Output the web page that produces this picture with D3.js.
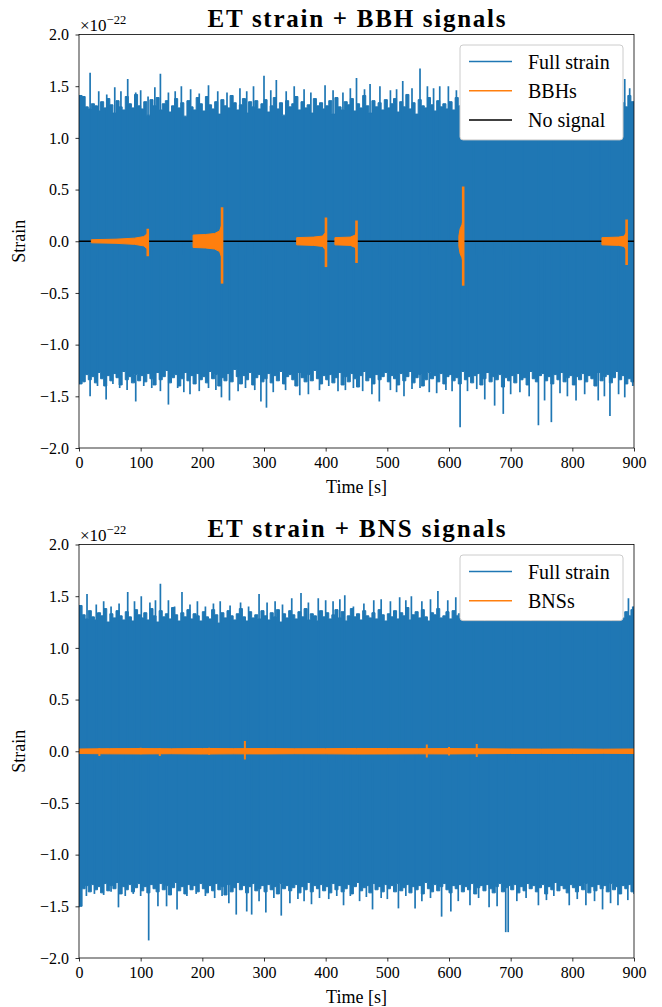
<!DOCTYPE html>
<html>
<head>
<meta charset="utf-8">
<script src="https://cdn.jsdelivr.net/npm/d3@7"></script>
<style>
    body { margin: 0; background: #fff; }
    svg text { font-family: "Liberation Serif", "Times New Roman", serif; fill: #000; }
</style>
</head>
<body>
<svg id="chart" width="662" height="1007" font-family="Liberation Serif, serif"></svg>
<script>
const plotLeft = 79;
const plotRight = 634;
const plotHeight = 413.5;
const panelTops = [34.5, 544.5];
const blue = "#1f77b4";
const orange = "#ff7f0e";

// tick values
const timeTicks = [0, 100, 200, 300, 400, 500, 600, 700, 800, 900];
const strainTicks = [-2.0, -1.5, -1.0, -0.5, 0.0, 0.5, 1.0, 1.5, 2.0];

// noise envelope (units of 1e-24), one value every 5 s from 0 to 900 s
const baseStep = 5;
const bbhNoiseUpper = [
    141,140,130,128,133,131,126,135,129,138,132,124,136,130,127,140,133,129,142,131,
    128,135,122,137,131,139,127,133,136,125,131,138,129,134,121,136,130,127,139,133,
    126,140,132,128,135,123,137,131,129,141,134,127,132,138,124,135,130,136,128,133,
    137,125,131,139,128,134,122,136,130,133,140,127,135,129,132,124,138,131,134,128,
    131,136,123,139,130,127,135,132,138,126,133,129,141,131,124,136,130,134,127,137,
    129,133,138,125,135,130,142,128,134,123,137,131,129,139,132,126,136,130,133,128,
    135,127,139,131,124,136,132,129,140,126,134,130,137,128,133,122,138,131,135,129,
    132,138,126,134,130,141,127,135,129,133,124,137,131,139,128,134,130,136,125,132,
    138,130,127,135,132,140,126,133,129,137,131,124,136,132,139,128,134,130,141,135,
    133];
const bbhNoiseLower = [
    138,136,129,134,131,137,127,133,140,130,135,128,132,139,126,134,131,137,129,135,
    130,136,128,133,139,127,134,131,125,137,132,129,140,133,127,135,130,138,128,134,
    131,137,126,133,129,140,132,135,128,136,124,131,138,130,134,127,139,132,129,136,
    133,128,137,130,135,126,138,131,129,134,140,127,132,136,129,135,125,133,138,130,
    134,129,137,132,127,139,131,136,128,133,141,130,126,135,132,138,129,134,131,127,
    136,130,133,139,128,135,131,126,137,132,129,140,134,127,133,130,136,128,138,131,
    129,135,132,138,126,134,131,137,130,128,139,133,127,136,131,134,129,141,132,135,
    130,137,128,134,132,139,126,133,136,130,128,135,131,138,129,134,127,136,132,130,
    139,131,134,128,136,130,133,140,127,135,131,129,137,132,126,134,130,138,133,136,
    136];
const bnsNoiseUpper = [
    141,132,128,136,130,127,134,131,138,125,133,129,136,131,127,135,130,126,137,132,
    129,134,127,138,131,125,136,130,133,128,139,132,126,134,130,137,128,133,131,126,
    135,130,128,137,132,124,134,129,136,131,127,133,138,130,126,135,129,132,128,136,
    131,127,134,130,137,125,133,129,136,132,128,135,130,138,127,133,131,126,136,130,
    134,128,132,137,129,135,126,131,138,130,133,127,136,131,129,134,128,137,132,126,
    133,130,136,128,134,131,139,127,132,135,129,137,130,126,134,132,138,129,131,135,
    128,136,131,133,127,138,130,135,129,132,137,126,134,131,139,128,133,130,136,129,
    134,130,137,128,135,132,126,139,131,134,129,136,130,127,135,132,138,128,133,130,
    136,129,133,131,138,127,134,130,135,128,137,131,126,134,132,139,129,135,131,137,
    140];
const bnsNoiseLower = [
    150,133,130,136,129,134,131,137,128,135,130,133,127,138,131,134,129,136,132,128,
    135,131,137,129,133,136,128,134,130,139,132,127,135,131,138,129,134,130,136,128,
    133,137,130,135,128,134,131,139,129,136,132,127,134,130,137,131,128,135,133,130,
    136,129,134,131,138,128,133,130,135,132,129,137,131,134,127,136,130,133,129,135,
    131,137,128,134,130,136,133,129,138,131,127,135,132,130,137,128,134,131,136,129,
    133,130,136,128,135,132,129,137,131,134,130,138,127,133,136,129,135,131,128,134,
    137,130,133,129,136,131,134,128,138,132,130,135,129,133,137,131,128,136,132,130,
    134,129,137,131,135,128,133,130,136,132,129,138,131,134,127,135,130,133,137,129,
    132,136,130,134,128,137,131,135,129,133,130,136,128,134,131,138,130,133,129,136,
    138];

// noise spikes [time s, strain 1e-22]
const bbhSpikesUp = [[2,1.41],[18,1.63],[32,1.45],[45,1.42],[58,1.49],[68,1.45],[79,1.57],[92,1.44],[100,1.46],
    [112,1.40],[123,1.49],[132,1.62],[145,1.44],[156,1.45],[166,1.50],[181,1.47],[195,1.43],[210,1.51],
    [225,1.45],[240,1.44],[261,1.48],[272,1.45],[283,1.50],[300,1.60],[311,1.46],[320,1.56],[336,1.45],
    [349,1.50],[365,1.47],[376,1.44],[399,1.51],[412,1.46],[428,1.44],[440,1.48],[450,1.58],[463,1.47],
    [472,1.52],[488,1.50],[505,1.46],[515,1.47],[525,1.55],[540,1.48],[553,1.67],[565,1.50],[575,1.48],
    [585,1.50],[599,1.50],[612,1.46],[640,1.52],[660,1.49],[690,1.55],[720,1.50],[745,1.56],[770,1.52],
    [800,1.48],[830,1.55],[845,1.68],[860,1.50],[885,1.57],[893,1.48]];
const bbhSpikesDown = [[0,-1.38],[9,-1.36],[18,-1.50],[30,-1.40],[44,-1.53],[55,-1.38],[66,-1.42],[78,-1.44],
    [92,-1.55],[105,-1.40],[118,-1.42],[132,-1.45],[145,-1.58],[160,-1.42],[170,-1.46],[180,-1.48],
    [195,-1.45],[210,-1.42],[222,-1.44],[231,-1.51],[244,-1.54],[258,-1.45],[270,-1.42],[285,-1.44],
    [295,-1.55],[304,-1.61],[315,-1.46],[335,-1.44],[358,-1.49],[372,-1.48],[390,-1.44],[405,-1.40],
    [420,-1.45],[432,-1.44],[445,-1.42],[460,-1.45],[475,-1.48],[487,-1.55],[505,-1.44],[515,-1.46],
    [527,-1.50],[540,-1.43],[553,-1.42],[568,-1.46],[580,-1.47],[595,-1.44],[605,-1.45],[618,-1.80],
    [630,-1.45],[645,-1.43],[658,-1.53],[674,-1.59],[688,-1.67],[700,-1.48],[715,-1.46],[730,-1.50],
    [745,-1.78],[755,-1.54],[766,-1.75],[780,-1.47],[792,-1.50],[806,-1.54],[820,-1.48],[842,-1.54],
    [852,-1.50],[861,-1.69],[875,-1.48],[885,-1.51],[898,-1.40]];
const bnsSpikesUp = [[0,1.41],[13,1.52],[28,1.42],[40,1.45],[52,1.40],[65,1.43],[79,1.54],[90,1.45],[101,1.50],
    [115,1.44],[124,1.46],[132,1.62],[145,1.46],[155,1.40],[167,1.54],[180,1.42],[192,1.45],[205,1.40],
    [218,1.43],[229,1.45],[245,1.41],[262,1.44],[275,1.40],[292,1.52],[305,1.44],[318,1.45],[330,1.42],
    [345,1.48],[360,1.53],[372,1.44],[388,1.48],[400,1.46],[412,1.45],[423,1.47],[431,1.51],[445,1.40],
    [462,1.43],[478,1.46],[490,1.47],[505,1.45],[520,1.49],[530,1.46],[539,1.50],[556,1.45],[570,1.47],
    [582,1.55],[598,1.46],[611,1.49],[625,1.52],[640,1.50],[655,1.46],[672,1.52],[690,1.48],[705,1.50],
    [720,1.55],[740,1.47],[760,1.52],[780,1.50],[800,1.48],[820,1.53],[840,1.49],[860,1.47],[878,1.45],
    [891,1.48],[898,1.40]];
const bnsSpikesDown = [[0,-1.51],[12,-1.40],[25,-1.38],[40,-1.39],[52,-1.36],[64,-1.51],[75,-1.40],[88,-1.38],
    [100,-1.40],[113,-1.83],[128,-1.50],[142,-1.50],[159,-1.53],[175,-1.40],[190,-1.38],[205,-1.40],
    [220,-1.42],[232,-1.40],[243,-1.47],[255,-1.58],[272,-1.55],[280,-1.58],[292,-1.45],[303,-1.56],
    [316,-1.42],[328,-1.59],[342,-1.47],[355,-1.43],[365,-1.45],[377,-1.48],[390,-1.42],[405,-1.43],
    [418,-1.40],[429,-1.49],[440,-1.40],[455,-1.45],[466,-1.41],[476,-1.53],[490,-1.42],[500,-1.43],
    [518,-1.52],[530,-1.40],[545,-1.52],[556,-1.45],[570,-1.42],[588,-1.60],[603,-1.55],[615,-1.45],
    [634,-1.49],[648,-1.42],[665,-1.51],[678,-1.50],[692,-1.75],[696,-1.75],[710,-1.45],[725,-1.42],
    [745,-1.49],[758,-1.44],[770,-1.40],[795,-1.49],[808,-1.43],[822,-1.49],[836,-1.45],[849,-1.53],
    [862,-1.47],[874,-1.49],[890,-1.44],[899,-1.36]];

// BBH chirps: envelope [time s, amplitude], merger time and ringdown extremes
const bbhEnvelopes = [
    [[20,0.015],[60,0.02],[90,0.03],[105,0.045],[110,0.07]],
    [[185,0.06],[205,0.065],[220,0.075],[228,0.10],[231,0.15]],
    [[353,0.035],[380,0.04],[395,0.05],[399,0.08]],
    [[415,0.035],[440,0.04],[448,0.06],[449.5,0.09]],
    [[616,0.05],[618,0.12],[621,0.16],[622.5,0.20]],
    [[848,0.035],[875,0.04],[884,0.05],[887,0.08]]
];
const bbhMerger = [111.5, 232, 400.5, 450, 623, 888];
const bbhPeakUp = [0.12, 0.33, 0.23, 0.20, 0.53, 0.21];
const bbhPeakDown = [-0.145, -0.41, -0.25, -0.21, -0.43, -0.23];

// BNS band: amplitude every 50 s, plus short glitches [time, up, down]
const bnsBandTimes = [0,50,100,150,200,250,300,350,400,450,500,550,600,650,700,750,800,850,900];
const bnsBandAmp = [0.022,0.025,0.026,0.024,0.027,0.025,0.026,0.024,0.025,0.027,0.026,0.025,0.026,0.024,0.022,0.021,0.022,0.020,0.022];
const bnsGlitchTimes = [33, 100, 131, 211, 269, 564, 600, 645];
const bnsGlitchUp = [0.03, 0.035, 0.03, 0.035, 0.10, 0.065, 0.04, 0.07];
const bnsGlitchDown = [-0.045, -0.03, -0.045, -0.035, -0.08, -0.06, -0.04, -0.055];

const svg = d3.select("#chart");

const xScale = d3.scaleLinear().domain([0, 900]).range([plotLeft, plotRight]);

function drawPanel(index, title, noiseUpper, noiseLower, spikesUp, spikesDown, legendItems) {
    const top = panelTops[index];
    const yScale = d3.scaleLinear().domain([-2, 2]).range([top + plotHeight, top]);
    const g = svg.append("g");

    // clip to axes
    g.append("clipPath").attr("id", "clip" + index)
        .append("rect")
        .attr("x", plotLeft).attr("y", top)
        .attr("width", plotRight - plotLeft).attr("height", plotHeight);
    const plot = g.append("g").attr("clip-path", `url(#clip${index})`);

    // full strain: dense noise body as a stepped envelope
    const bins = noiseUpper.map((u, i) => ({ t: i * baseStep, u: u / 100, l: -noiseLower[i] / 100 }));
    plot.append("path")
        .datum(bins)
        .attr("d", d3.area()
            .curve(d3.curveStepAfter)
            .x(d => xScale(d.t))
            .y0(d => yScale(d.l))
            .y1(d => yScale(d.u)))
        .attr("fill", blue)
        .attr("stroke", blue).attr("stroke-width", 1);

    plot.selectAll(".spike").data(spikesUp.concat(spikesDown)).enter().append("line")
        .attr("x1", d => xScale(d[0])).attr("x2", d => xScale(d[0]))
        .attr("y1", yScale(0)).attr("y2", d => yScale(d[1]))
        .attr("stroke", blue).attr("stroke-width", 1.7);

    // signals
    if (index === 0) {
        plot.append("line")
            .attr("x1", xScale(0)).attr("x2", xScale(900))
            .attr("y1", yScale(0)).attr("y2", yScale(0))
            .attr("stroke", "#000").attr("stroke-width", 1.6);

        const chirp = d3.area()
            .x(d => xScale(d[0]))
            .y0(d => yScale(-d[1]))
            .y1(d => yScale(d[1]));
        bbhEnvelopes.forEach((env, k) => {
            plot.append("path")
                .datum(env.concat([[bbhMerger[k], env[env.length - 1][1]]]))
                .attr("d", chirp)
                .attr("fill", orange)
                .attr("stroke", orange).attr("stroke-width", 1);
            plot.append("line")
                .attr("x1", xScale(bbhMerger[k])).attr("x2", xScale(bbhMerger[k]))
                .attr("y1", yScale(bbhPeakDown[k])).attr("y2", yScale(bbhPeakUp[k]))
                .attr("stroke", orange).attr("stroke-width", 2.6);
        });
    } else {
        const band = d3.area()
            .x((d, i) => xScale(bnsBandTimes[i]))
            .y0(d => yScale(-d))
            .y1(d => yScale(d));
        plot.append("path")
            .datum(bnsBandAmp)
            .attr("d", band)
            .attr("fill", orange)
            .attr("stroke", orange).attr("stroke-width", 1);
        plot.selectAll(".glitch").data(bnsGlitchTimes).enter().append("line")
            .attr("x1", d => xScale(d)).attr("x2", d => xScale(d))
            .attr("y1", (d, i) => yScale(bnsGlitchDown[i]))
            .attr("y2", (d, i) => yScale(bnsGlitchUp[i]))
            .attr("stroke", orange).attr("stroke-width", 2);
    }

    // axes
    const yAxis = g.append("g")
        .attr("transform", `translate(${plotLeft}, 0)`)
        .call(d3.axisLeft(yScale).tickValues(strainTicks).tickFormat(d3.format(".1f")).tickSize(3.5).tickPadding(6.5));
    const xAxis = g.append("g")
        .attr("transform", `translate(0, ${top + plotHeight})`)
        .call(d3.axisBottom(xScale).tickValues(timeTicks).tickFormat(d3.format("d")).tickSize(3.5).tickPadding(5));
    [yAxis, xAxis].forEach(a => {
        a.select(".domain").remove();
        a.attr("font-family", "Liberation Serif, serif").attr("font-size", 16);
        a.selectAll("line").attr("stroke", "#000").attr("stroke-width", 0.8);
    });

    g.append("rect")
        .attr("x", plotLeft).attr("y", top)
        .attr("width", plotRight - plotLeft).attr("height", plotHeight)
        .attr("fill", "none").attr("stroke", "#000").attr("stroke-width", 0.8);

    // offset text
    const offset = g.append("text").attr("x", 80).attr("y", top - 3.8).attr("font-size", 17);
    offset.append("tspan").text("×10");
    offset.append("tspan").attr("dy", -7).attr("font-size", 12.5).text("−22");

    // title and labels
    g.append("text")
        .attr("x", (plotLeft + plotRight) / 2).attr("y", top - 8)
        .attr("text-anchor", "middle")
        .attr("font-size", 25).attr("font-weight", "bold")
        .attr("textLength", 298).attr("lengthAdjust", "spacing")
        .text(title);
    g.append("text")
        .attr("transform", `translate(25, ${top + plotHeight / 2}) rotate(-90)`)
        .attr("text-anchor", "middle")
        .attr("font-size", 18)
        .text("Strain");
    g.append("text")
        .attr("x", (plotLeft + plotRight) / 2).attr("y", top + plotHeight + 45)
        .attr("text-anchor", "middle")
        .attr("font-size", 18)
        .text("Time [s]");

    // legend
    const rowH = 29.3;
    const legend = g.append("g").attr("transform", `translate(460, ${top + 10.5})`);
    legend.append("rect")
        .attr("width", 163).attr("height", 7 + rowH * legendItems.length)
        .attr("rx", 3)
        .attr("fill", "#fff")
        .attr("stroke", "#ccc").attr("stroke-width", 1);
    legendItems.forEach((item, k) => {
        const cy = 16.5 + rowH * k;
        legend.append("line")
            .attr("x1", 9).attr("x2", 52).attr("y1", cy).attr("y2", cy)
            .attr("stroke", item[1]).attr("stroke-width", 1.5);
        legend.append("text")
            .attr("x", 68).attr("y", cy + 7)
            .attr("font-size", 20)
            .text(item[0]);
    });
}

drawPanel(0, "ET strain + BBH signals", bbhNoiseUpper, bbhNoiseLower, bbhSpikesUp, bbhSpikesDown,
    [["Full strain", blue], ["BBHs", orange], ["No signal", "#000"]]);
drawPanel(1, "ET strain + BNS signals", bnsNoiseUpper, bnsNoiseLower, bnsSpikesUp, bnsSpikesDown,
    [["Full strain", blue], ["BNSs", orange]]);
</script>
</body>
</html>
